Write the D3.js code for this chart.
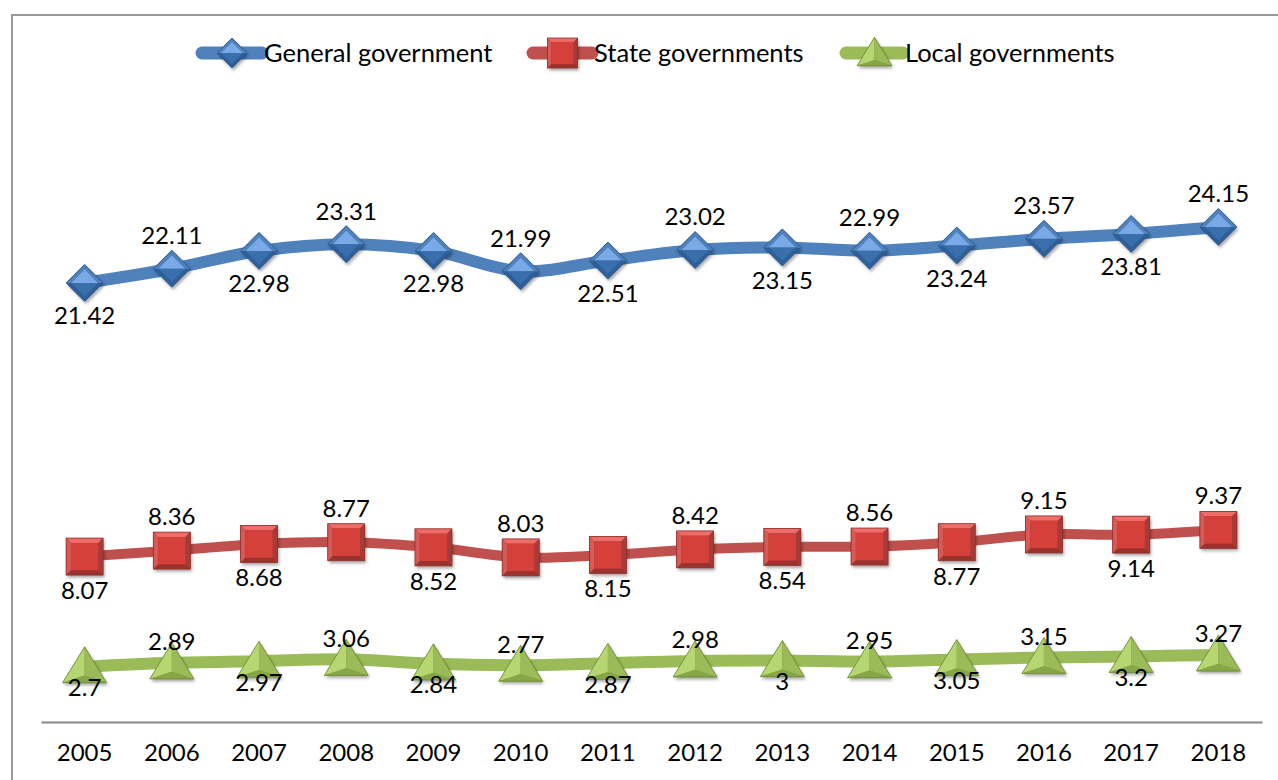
<!DOCTYPE html>
<html>
<head>
<meta charset="utf-8">
<script src="https://cdn.jsdelivr.net/npm/d3@7"></script>
<style>
  html, body { margin: 0; padding: 0; background: #fff; }
  svg { display: block; font-family: Lato, "Open Sans", sans-serif; }
</style>
</head>
<body>
<svg id="chart" width="1278" height="780"></svg>
<script>
const years = ["2005","2006","2007","2008","2009","2010","2011","2012","2013","2014","2015","2016","2017","2018"];
const seriesNames = ["General government", "State governments", "Local governments"];
const generalGov = [21.42, 22.11, 22.98, 23.31, 22.98, 21.99, 22.51, 23.02, 23.15, 22.99, 23.24, 23.57, 23.81, 24.15];
const stateGov   = [8.07, 8.36, 8.68, 8.77, 8.52, 8.03, 8.15, 8.42, 8.54, 8.56, 8.77, 9.15, 9.14, 9.37];
const localGov   = [2.7, 2.89, 2.97, 3.06, 2.84, 2.77, 2.87, 2.98, 3, 2.95, 3.05, 3.15, 3.2, 3.27];
const yDomain = [0, 30];

const series = [
  { name: seriesNames[0], values: generalGov, color: "#4f81bd", light: "#7aaae6", dark: "#2f5f99", width: 12, marker: "diamond", labelOff: 33 },
  { name: seriesNames[1], values: stateGov,   color: "#c0504d", light: "#ee6d69", dark: "#9b312e", width: 10, marker: "square",  labelOff: 34 },
  { name: seriesNames[2], values: localGov,   color: "#9bbb59", light: "#b6d672", dark: "#6f8f35", width: 12, marker: "triangle", labelOff: 21 }
];

const svg = d3.select("#chart");
const W = 1278, H = 780;
const plot = { left: 41, right: 1262, top: 107, bottom: 722 };

const defs = svg.append("defs");
const f = defs.append("filter").attr("id", "shadow").attr("x", "-30%").attr("y", "-30%").attr("width", "160%").attr("height", "170%");
f.append("feDropShadow").attr("dx", 1.5).attr("dy", 2.5).attr("stdDeviation", 1.8).attr("flood-color", "#000").attr("flood-opacity", 0.35);

// chart frame
svg.append("path")
  .attr("d", `M12,${H} L12,15 L${W},15`)
  .attr("fill", "none").attr("stroke", "#9a9a9a").attr("stroke-width", 2);

const x = d3.scaleBand().domain(years).range([plot.left, plot.right]);
const xc = d => x(d) + x.bandwidth() / 2;
const y = d3.scaleLinear().domain(yDomain).range([plot.bottom, plot.top]);

// axis
const xAxis = d3.axisBottom(x).tickSize(0).tickPadding(22);
const gx = svg.append("g").attr("transform", `translate(0,${plot.bottom})`).call(xAxis);
gx.select(".domain").attr("stroke", "#878787").attr("stroke-width", 2.2);
gx.selectAll("text").attr("font-size", 24).attr("fill", "#000").attr("font-family", "Lato, sans-serif");

function drawMarker(g, type, s, size) {
  const h = size / 2;
  if (type === "diamond") {
    g.append("path").attr("d", `M0,${-h} L${h},0 L0,${h} L${-h},0 Z`).attr("fill", s.dark).attr("filter", "url(#shadow)");
    g.append("path").attr("d", `M0,${-h} L${h},0 L${-h},0 Z`).attr("fill", s.color);
    const i = h * 0.72;
    g.append("path").attr("d", `M0,${-i} L${i},0 L${-i},0 Z`).attr("fill", s.light);
    g.append("path").attr("d", `M${-i},0 L${i},0 L0,${i} Z`).attr("fill", "#3a6fae");
    g.append("path").attr("d", `M0,${-h} L${h},0 L0,${h} L${-h},0 Z`).attr("fill", "none").attr("stroke", "#2b5487").attr("stroke-width", 0.8);
  } else if (type === "square") {
    g.append("rect").attr("x", -h).attr("y", -h).attr("width", size).attr("height", size).attr("fill", s.dark).attr("filter", "url(#shadow)");
    const b = size * 0.13;
    g.append("path").attr("d", `M${-h},${-h} L${h},${-h} L${h - b},${-h + b} L${-h + b},${-h + b} Z`).attr("fill", s.light);
    g.append("path").attr("d", `M${-h},${-h} L${-h + b},${-h + b} L${-h + b},${h - b} L${-h},${h} Z`).attr("fill", "#d65a56");
    g.append("path").attr("d", `M${h},${-h} L${h},${h} L${h - b},${h - b} L${h - b},${-h + b} Z`).attr("fill", "#a83a37");
    g.append("rect").attr("x", -h + b).attr("y", -h + b).attr("width", size - 2 * b).attr("height", size - 2 * b).attr("fill", "#d6403b");
    g.append("rect").attr("x", -h).attr("y", -h).attr("width", size).attr("height", size).attr("fill", "none").attr("stroke", "#8e2f2c").attr("stroke-width", 0.8);
  } else {
    const tw = size * 0.58, top = -h * 1.05, bot = h * 0.85;
    g.append("path").attr("d", `M0,${top} L${tw},${bot} L${-tw},${bot} Z`).attr("fill", s.dark).attr("filter", "url(#shadow)");
    g.append("path").attr("d", `M0,${top} L0,${bot * 0.55} L${-tw},${bot} Z`).attr("fill", s.light);
    g.append("path").attr("d", `M0,${top} L${tw},${bot} L0,${bot * 0.55} Z`).attr("fill", s.color);
    g.append("path").attr("d", `M${-tw},${bot} L0,${bot * 0.55} L${tw},${bot} Z`).attr("fill", "#86a648");
    g.append("path").attr("d", `M0,${top} L${tw},${bot} L${-tw},${bot} Z`).attr("fill", "none").attr("stroke", "#6e8a34").attr("stroke-width", 0.8);
  }
}

const line = d3.line().x((d, i) => xc(years[i])).y(d => y(d)).curve(d3.curveCatmullRom.alpha(0.5));

series.forEach(s => {
  svg.append("path").datum(s.values)
    .attr("d", line)
    .attr("fill", "none").attr("stroke", s.color).attr("stroke-width", s.width)
    .attr("stroke-linejoin", "round").attr("stroke-linecap", "round");
});

series.forEach(s => {
  s.values.forEach((v, i) => {
    const g = svg.append("g").attr("transform", `translate(${xc(years[i])},${y(v)})`);
    drawMarker(g, s.marker, s, s.marker === "triangle" ? 38 : 37);
  });
});

series.forEach(s => {
  svg.append("g").selectAll("text").data(s.values).join("text")
    .attr("x", (d, i) => xc(years[i]))
    .attr("y", (d, i) => y(d) + (i % 2 === 0 ? s.labelOff : -s.labelOff))
    .attr("dy", "0.35em")
    .attr("text-anchor", "middle")
    .attr("font-size", 24)
    .attr("fill", "#000")
    .text(d => String(d));
});

// legend
const legendItems = [
  { s: series[0], x0: 202, x1: 262, tx: 264 },
  { s: series[1], x0: 533, x1: 592, tx: 594 },
  { s: series[2], x0: 846, x1: 903, tx: 905 }
];
const ly = 53;
legendItems.forEach(it => {
  const g = svg.append("g");
  g.append("line").attr("x1", it.x0).attr("x2", it.x1).attr("y1", ly).attr("y2", ly)
    .attr("stroke", it.s.color).attr("stroke-width", 13).attr("stroke-linecap", "round");
  const m = g.append("g").attr("transform", `translate(${(it.x0 + it.x1) / 2},${ly})`);
  drawMarker(m, it.s.marker, it.s, 30);
  g.append("text").attr("x", it.tx).attr("y", ly).attr("dy", "0.35em")
    .attr("font-size", 25.5).attr("fill", "#000").text(it.s.name);
});
</script>
</body>
</html>
